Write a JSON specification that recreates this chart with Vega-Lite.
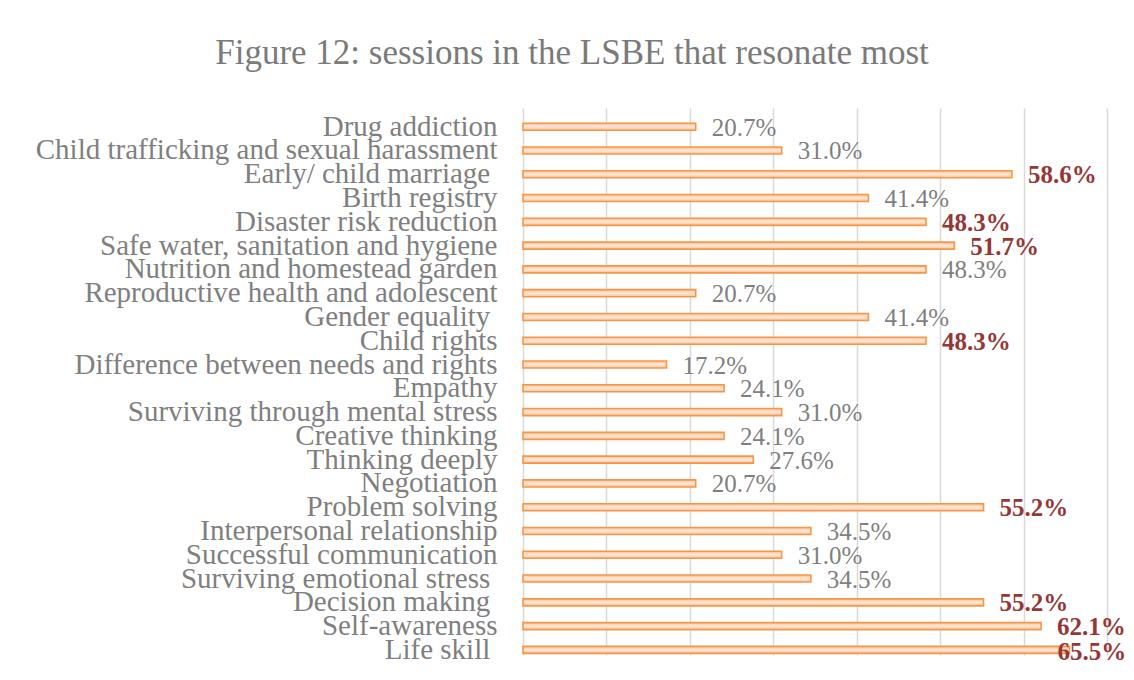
{
  "$schema": "https://vega.github.io/schema/vega-lite/v6.json",
  "autosize": {"type": "none"},
  "width": 584,
  "height": 547,
  "padding": {"left": 523, "top": 108, "right": 27, "bottom": 25},
  "background": "white",
  "config": {"view": {"stroke": null}, "font": "Liberation Serif"},
  "title": {
    "text": "Figure 12: sessions in the LSBE that resonate most",
    "font": "Liberation Serif",
    "fontSize": 35,
    "fontWeight": "normal",
    "color": "#7a7a7a",
    "anchor": "middle",
    "dx": -243,
    "baseline": "alphabetic",
    "offset": 9
  },
  "data": {
    "values": [
      {"session": "Drug addiction", "share": 0.207, "hl": false},
      {"session": "Child trafficking and sexual harassment", "share": 0.310, "hl": false},
      {"session": "Early/ child marriage\u00a0\u200b", "share": 0.586, "hl": true},
      {"session": "Birth registry", "share": 0.414, "hl": false},
      {"session": "Disaster risk reduction", "share": 0.483, "hl": true},
      {"session": "Safe water, sanitation and hygiene", "share": 0.517, "hl": true},
      {"session": "Nutrition and homestead garden", "share": 0.483, "hl": false},
      {"session": "Reproductive health and adolescent", "share": 0.207, "hl": false},
      {"session": "Gender equality\u00a0\u200b", "share": 0.414, "hl": false},
      {"session": "Child rights", "share": 0.483, "hl": true},
      {"session": "Difference between needs and rights", "share": 0.172, "hl": false},
      {"session": "Empathy", "share": 0.241, "hl": false},
      {"session": "Surviving through mental stress", "share": 0.310, "hl": false},
      {"session": "Creative thinking", "share": 0.241, "hl": false},
      {"session": "Thinking deeply", "share": 0.276, "hl": false},
      {"session": "Negotiation", "share": 0.207, "hl": false},
      {"session": "Problem solving", "share": 0.552, "hl": true},
      {"session": "Interpersonal relationship", "share": 0.345, "hl": false},
      {"session": "Successful communication", "share": 0.310, "hl": false},
      {"session": "Surviving emotional stress\u00a0\u200b", "share": 0.345, "hl": false},
      {"session": "Decision making\u00a0\u200b", "share": 0.552, "hl": true},
      {"session": "Self-awareness", "share": 0.621, "hl": true},
      {"session": "Life skill\u00a0\u200b", "share": 0.655, "hl": true}
    ]
  },
  "encoding": {
    "y": {
      "field": "session",
      "type": "nominal",
      "sort": null,
      "scale": {"paddingInner": 0.705, "paddingOuter": 0.353, "align": 0.905},
      "axis": {
        "title": null,
        "domain": false,
        "ticks": false,
        "labelFont": "Liberation Serif",
        "labelFontSize": 29,
        "labelColor": "#7f7f7f",
        "labelPadding": 26,
        "labelLimit": 600
      }
    },
    "x": {
      "field": "share",
      "type": "quantitative",
      "scale": {"domain": [0, 0.7], "nice": false},
      "axis": {
        "title": null,
        "labels": false,
        "ticks": false,
        "domain": false,
        "values": [0, 0.1, 0.2, 0.3, 0.4, 0.5, 0.6, 0.7],
        "grid": true,
        "gridColor": "#d9d9d9",
        "gridWidth": 1.5
      }
    }
  },
  "layer": [
    {
      "mark": {
        "type": "bar",
        "stroke": "#f79646",
        "strokeWidth": 1.6,
        "cornerRadius": 0,
        "color": {
          "gradient": "linear",
          "x1": 0, "y1": 0, "x2": 0, "y2": 1,
          "stops": [
            {"offset": 0, "color": "#f9c29a"},
            {"offset": 0.5, "color": "#fde8d8"},
            {"offset": 1, "color": "#f9c29a"}
          ]
        }
      }
    },
    {
      "transform": [{"filter": "!datum.hl"}],
      "mark": {"type": "text", "align": "left", "baseline": "middle", "dx": 16, "dy": 1, "fontSize": 25, "font": "Liberation Serif", "color": "#7f7f7f"},
      "encoding": {"text": {"field": "share", "type": "quantitative", "format": ".1%"}}
    },
    {
      "transform": [{"filter": "datum.hl && datum.share < 0.65"}],
      "mark": {"type": "text", "align": "left", "baseline": "middle", "dx": 16, "dy": 1, "fontSize": 25, "fontWeight": "bold", "font": "Liberation Serif", "color": "#953735"},
      "encoding": {"text": {"field": "share", "type": "quantitative", "format": ".1%"}}
    },
    {
      "transform": [{"filter": "datum.share >= 0.65"}],
      "mark": {"type": "text", "align": "left", "baseline": "middle", "dx": -12, "dy": 2, "fontSize": 25, "fontWeight": "bold", "font": "Liberation Serif", "color": "#953735"},
      "encoding": {"text": {"field": "share", "type": "quantitative", "format": ".1%"}}
    }
  ]
}
